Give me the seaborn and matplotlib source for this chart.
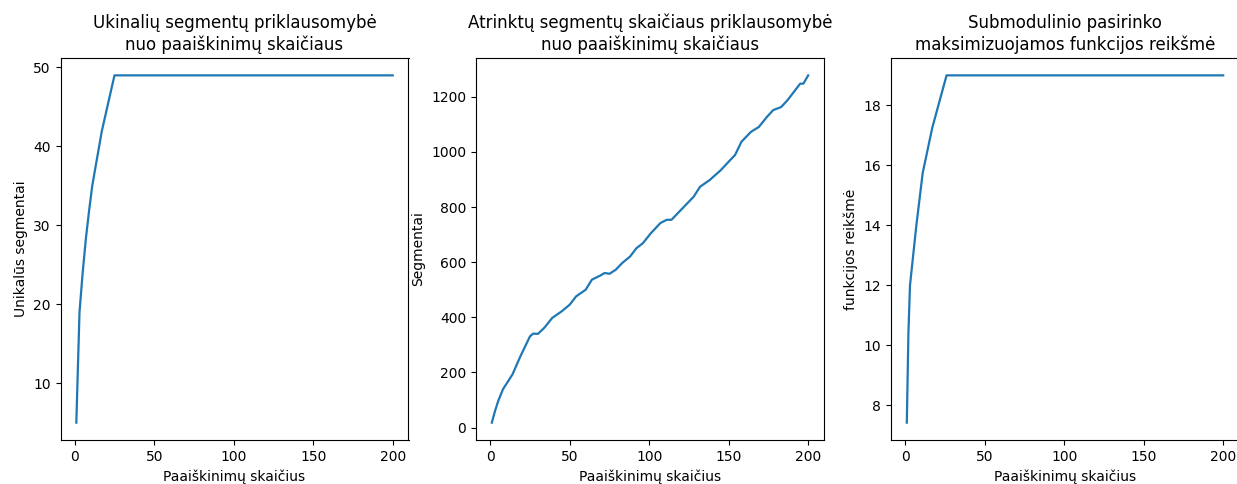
import matplotlib
matplotlib.use("Agg")
import matplotlib.pyplot as plt
import seaborn as sns
import pandas as pd

# Panel 1: unique segments vs number of explanations
unique_x = [1, 3, 5, 7, 9, 11, 17, 25, 200]
unique_y = [5.0, 19.0, 24.0, 28.3, 31.8, 35.0, 41.9, 49.0, 49.0]

# Panel 2: selected segments vs number of explanations
seg_x = [1, 3, 5, 8, 14, 19, 23, 25, 27, 30, 34, 39, 45, 50, 54, 60, 64, 69, 72, 75,
         79, 83, 88, 92, 96, 101, 107, 111, 114, 119, 124, 128, 132, 138, 145, 151,
         154, 158, 164, 169, 174, 178, 183, 187, 191, 195, 197, 200]
seg_y = [18, 60, 96, 139, 193, 259, 307, 331, 341, 340, 362, 398, 422, 446, 476, 500,
         537, 551, 561, 558, 573, 597, 621, 651, 669, 705, 742, 754, 754, 784, 814,
         838, 874, 898, 934, 971, 989, 1037, 1073, 1091, 1127, 1152, 1163, 1188, 1218,
         1248, 1248, 1278]

# Panel 3: submodular objective value
func_x = [1, 2, 3, 7, 11, 17, 26, 200]
func_y = [7.42, 10.4, 12.0, 14.0, 15.75, 17.25, 19.0, 19.0]

xlabel = "Paaiškinimų skaičius"
titles = ["Ukinalių segmentų priklausomybė\nnuo paaiškinimų skaičiaus",
          "Atrinktų segmentų skaičiaus priklausomybė\nnuo paaiškinimų skaičiaus",
          "Submodulinio pasirinko\nmaksimizuojamos funkcijos reikšmė"]
ylabels = ["Unikalūs segmentai", "Segmentai", "funkcijos reikšmė"]

plt.rcParams['font.family'] = ['DejaVu Sans']
fig = plt.figure(figsize=(12.37, 4.84), dpi=100)

W, H = 1237, 484
lefts = [60.5, 476, 891]
aw, top, bottom = 348, 58, 440

series = [(unique_x, unique_y), (seg_x, seg_y), (func_x, func_y)]
for i, ((xs, ys), t, yl) in enumerate(zip(series, titles, ylabels)):
    ax = fig.add_axes([lefts[i] / W, 1 - bottom / H, aw / W, (bottom - top) / H])
    df = pd.DataFrame({"x": xs, "y": ys})
    sns.lineplot(data=df, x="x", y="y", ax=ax, color="#1f77b4", linewidth=1.6)
    ax.set_title(t, fontsize=12)
    ax.set_xlabel(xlabel, fontsize=10)
    ax.set_ylabel(yl, fontsize=10)
    ax.set_xticks([0, 50, 100, 150, 200])

fig.savefig("out.png", dpi=100)
